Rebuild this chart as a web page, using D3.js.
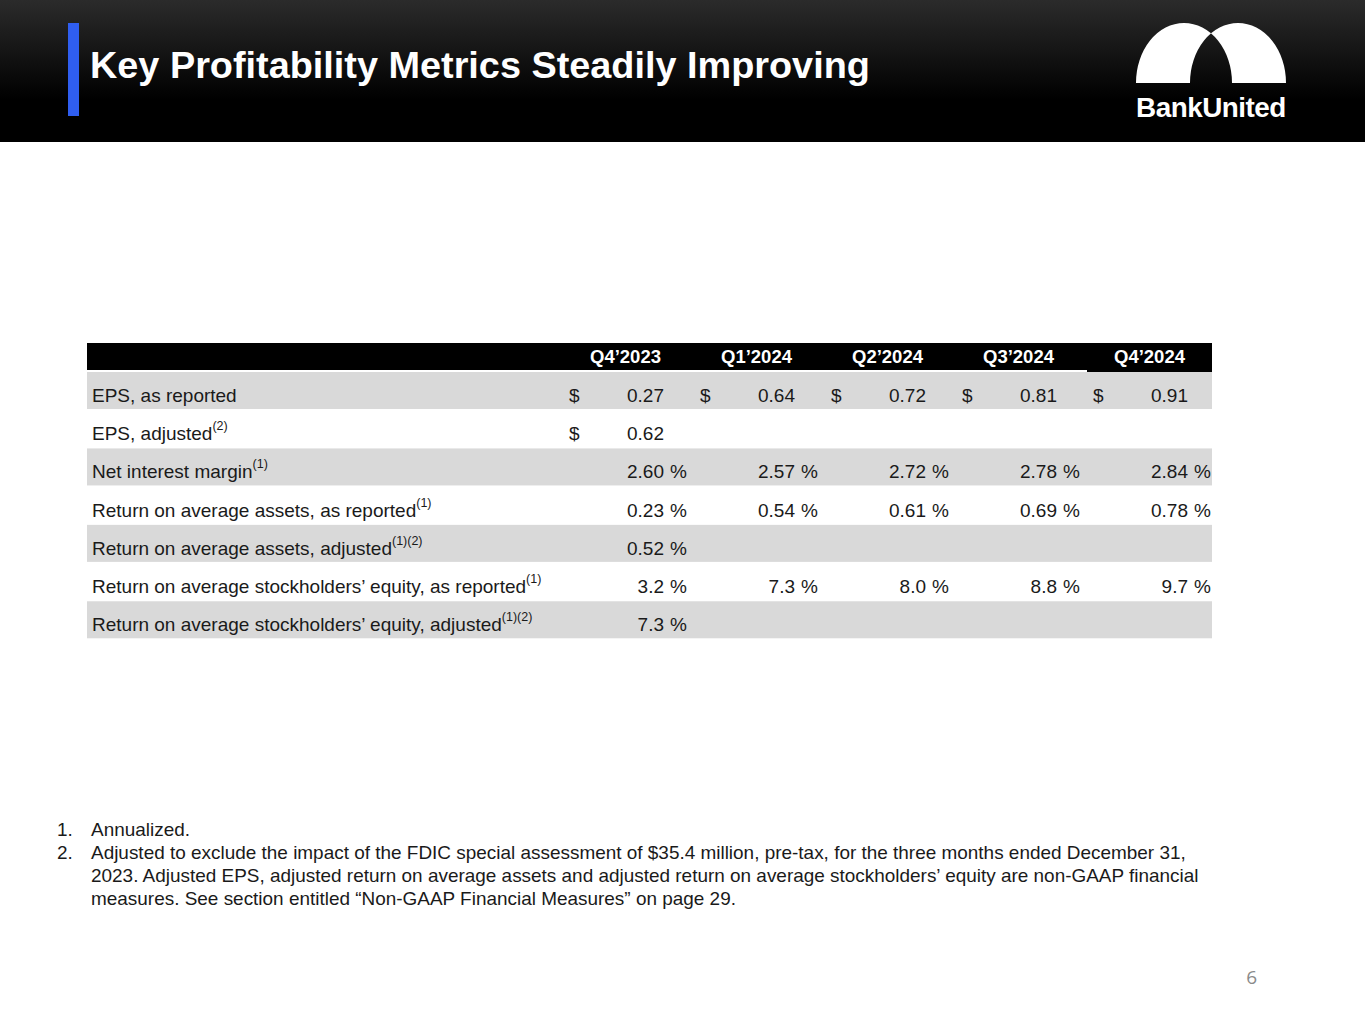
<!DOCTYPE html>
<html>
<head>
<meta charset="utf-8">
<script src="https://cdn.jsdelivr.net/npm/d3@7"></script>
<style>
  html, body { margin: 0; padding: 0; background: #fff; }
  svg { display: block; font-family: "Liberation Sans", Arial, sans-serif; }
</style>
</head>
<body>
<div class="bod"></div>
<script>
// data
const quarters = ["Q4’2023", "Q1’2024", "Q2’2024", "Q3’2024", "Q4’2024"]
const rowLabels = [
  "EPS, as reported",
  "EPS, adjusted",
  "Net interest margin",
  "Return on average assets, as reported",
  "Return on average assets, adjusted",
  "Return on average stockholders’ equity, as reported",
  "Return on average stockholders’ equity, adjusted"
]
const rowNotes = ["", "(2)", "(1)", "(1)", "(1)(2)", "(1)", "(1)(2)"]
const epsReported = [0.27, 0.64, 0.72, 0.81, 0.91]
const epsAdjusted = [0.62]
const netInterestMargin = [2.60, 2.57, 2.72, 2.78, 2.84]
const roaReported = [0.23, 0.54, 0.61, 0.69, 0.78]
const roaAdjusted = [0.52]
const roeReported = [3.2, 7.3, 8.0, 8.8, 9.7]
const roeAdjusted = [7.3]
const footnotes = [
  ["1.", "Annualized."],
  ["2.", "Adjusted to exclude the impact of the FDIC special assessment of $35.4 million, pre-tax, for the three months ended December 31,"],
  ["", "2023. Adjusted EPS, adjusted return on average assets and adjusted return on average stockholders’ equity are non-GAAP financial"],
  ["", "measures. See section entitled “Non-GAAP Financial Measures” on page 29."]
]

//______________________________________________________________________________________________________________
// rows: values + how they print
let rows = [
  {values: epsReported, unit: '$', fmt: d3.format('.2f')},
  {values: epsAdjusted, unit: '$', fmt: d3.format('.2f')},
  {values: netInterestMargin, unit: '%', fmt: d3.format('.2f')},
  {values: roaReported, unit: '%', fmt: d3.format('.2f')},
  {values: roaAdjusted, unit: '%', fmt: d3.format('.2f')},
  {values: roeReported, unit: '%', fmt: d3.format('.1f')},
  {values: roeAdjusted, unit: '%', fmt: d3.format('.1f')}
].map((r, i) => Object.assign(r, {label: rowLabels[i], note: rowNotes[i]}))

const size = {width: 1365, height: 1024}
const svg = d3.select('.bod').append('svg')
  .attr('width', size.width)
  .attr('height', size.height)

// fit a text node to a width by changing its font size
let fitWidth = (sel, target) => {
  let w = sel.node().getComputedTextLength()
  let fs = parseFloat(sel.attr('font-size'))
  sel.attr('font-size', fs * target / w)
  return fs * target / w
}

//______________________________________________________________________________________________________________
// header band
const defs = svg.append('defs')
const grad = defs.append('linearGradient').attr('id', 'hdr').attr('x1', 0).attr('y1', 0).attr('x2', 0).attr('y2', 1)
grad.append('stop').attr('offset', '0%').attr('stop-color', '#2b2b2b')
grad.append('stop').attr('offset', '70%').attr('stop-color', '#000')
svg.append('rect').attr('x', 0).attr('y', 0).attr('width', size.width).attr('height', 142).attr('fill', 'url(#hdr)')
svg.append('rect').attr('x', 68).attr('y', 23).attr('width', 11).attr('height', 93).attr('fill', '#2f5ef0')

let title = svg.append('text')
  .attr('x', 90).attr('y', 78)
  .attr('font-size', 36).attr('font-weight', 'bold').attr('fill', '#fff')
  .text('Key Profitability Metrics Steadily Improving')
fitWidth(title, 780)

// logo: two overlapping arches, overlap cut out
svg.append('path')
  .attr('d', 'M1136,83 A48,60 0 0 1 1232,83 Z M1190,83 A48,60 0 0 1 1286,83 Z')
  .attr('fill', '#fff').attr('fill-rule', 'evenodd')
let brand = svg.append('text')
  .attr('x', 1136).attr('y', 117)
  .attr('font-size', 28).attr('font-weight', 'bold').attr('fill', '#fff')
  .attr('letter-spacing', -0.5)
  .text('BankUnited')
fitWidth(brand, 150)

//______________________________________________________________________________________________________________
// table
const tbl = {left: 87, right: 1212, top: 343, headH: 27}
const x = d3.scaleBand().domain(quarters).range([560, 1215])
const y = d3.scaleBand().domain(d3.range(rows.length)).range([372, 639.5])
const bw = x.bandwidth()
const fs = 19

svg.append('rect').attr('x', tbl.left).attr('y', tbl.top).attr('width', tbl.right - tbl.left).attr('height', tbl.headH).attr('fill', '#000')
svg.append('rect').attr('x', 1087).attr('y', tbl.top).attr('width', tbl.right - 1087).attr('height', tbl.headH + 2).attr('fill', '#000')

svg.selectAll('.colHead')
  .data(quarters)
  .enter()
  .append('text')
  .classed('colHead', true)
  .attr('x', q => x(q) + bw / 2)
  .attr('y', 363)
  .attr('text-anchor', 'middle')
  .attr('font-size', 18.5).attr('font-weight', 'bold').attr('fill', '#fff')
  .text(q => q)

let rowG = svg.selectAll('.row')
  .data(rows)
  .enter()
  .append('g')
  .classed('row', true)
  .attr('transform', (r, i) => `translate(0,${y(i)})`)

rowG.filter((r, i) => i % 2 == 0)
  .append('rect')
  .attr('x', tbl.left).attr('y', 0)
  .attr('width', tbl.right - tbl.left)
  .attr('height', y.bandwidth() - 1.2)
  .attr('fill', '#d9d9d9')

let lab = rowG.append('text')
  .attr('x', 92).attr('y', 30)
  .attr('font-size', fs).attr('fill', '#1a1a1a')
lab.append('tspan').text(r => r.label)
lab.append('tspan')
  .attr('font-size', 12.5).attr('dy', -10)
  .text(r => r.note)

let cells = rowG.selectAll('.cell')
  .data(r => r.values.map((v, j) => ({v: v, q: quarters[j], r: r})))
  .enter()
  .append('g')
  .classed('cell', true)
  .attr('transform', d => `translate(${x(d.q)},30)`)

cells.append('text')
  .attr('x', bw - 27).attr('text-anchor', 'end')
  .attr('font-size', fs).attr('fill', '#1a1a1a')
  .text(d => d.r.fmt(d.v))
cells.append('text')
  .attr('x', d => d.r.unit == '$' ? 9 : bw - 4).attr('text-anchor', d => d.r.unit == '$' ? 'start' : 'end')
  .attr('font-size', fs).attr('fill', '#1a1a1a')
  .text(d => d.r.unit)

//______________________________________________________________________________________________________________
// footnotes + page number
let fn = svg.selectAll('.fn')
  .data(footnotes)
  .enter()
  .append('g')
  .classed('fn', true)
  .attr('transform', (f, i) => `translate(0,${836 + i * 23})`)
let fnNum = fn.append('text').attr('x', 57).attr('font-size', 17.5).attr('fill', '#1a1a1a').text(f => f[0])
let fnText = fn.append('text').attr('x', 91).attr('font-size', 17.5).attr('fill', '#1a1a1a').text(f => f[1])
// size all footnotes off the longest line
let fnSize = fitWidth(fnText.filter((f, i) => i == 1), 1095)
fnText.attr('font-size', fnSize)
fnNum.attr('font-size', fnSize)

svg.append('text')
  .attr('x', 1257).attr('y', 984).attr('text-anchor', 'end')
  .attr('font-family', '"Open Sans", sans-serif')
  .attr('font-size', 19).attr('fill', '#8a8a8a')
  .text('6')
</script>
</body>
</html>
